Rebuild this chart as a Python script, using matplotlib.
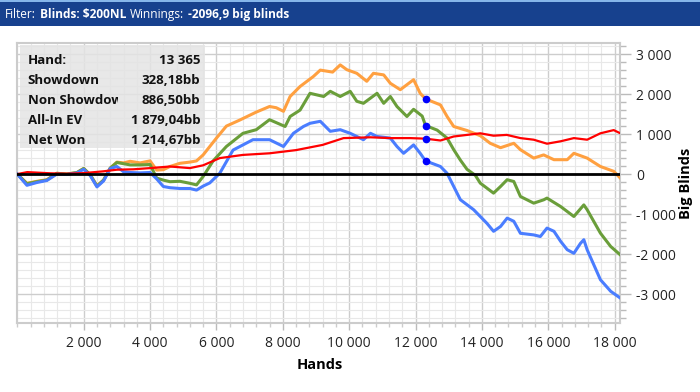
import matplotlib
matplotlib.use("Agg")
import matplotlib.pyplot as plt
from matplotlib.patches import Rectangle
from matplotlib.ticker import MultipleLocator, FixedLocator, FuncFormatter
from matplotlib.transforms import Bbox

plt.rcParams['font.family'] = ['Open Sans', 'DejaVu Sans']

# ---------------- data ----------------
ev_hands = [0, 290, 590, 890, 1190, 1490, 1800, 2000, 2200, 2400, 2600, 2800, 3000, 3200, 3400, 3700,
            4000, 4200, 4400, 4600, 4900, 5200, 5400, 5600, 6000, 6300, 6700, 7200, 7600, 7800, 8020,
            8220, 8520, 8920, 9130, 9500, 9730, 9930, 10230, 10530, 10730, 11040, 11240, 11540, 11940,
            12140, 12300, 12750, 12950, 13150, 13550, 13950, 14250, 14560, 14960, 15160, 15560, 15860,
            16170, 16570, 16770, 17170, 17570, 17970, 18170]
ev_vals = [0, -230, -180, -140, 20, 0, 40, 140, -20, -290, -150, 150, 300, 280, 320, 280,
           330, 100, 110, 190, 270, 300, 330, 480, 900, 1200, 1350, 1550, 1690, 1660, 1570,
           1940, 2190, 2440, 2600, 2550, 2730, 2610, 2520, 2320, 2520, 2480, 2270, 2110, 2360,
           2020, 1880, 1730, 1440, 1190, 1090, 960, 770, 660, 770, 610, 400, 480,
           360, 360, 520, 400, 190, 70, -100]

net_hands = [0, 290, 590, 890, 1190, 1490, 1800, 2000, 2200, 2400, 2600, 2800, 3000, 3200, 3400, 3700,
             4000, 4200, 4400, 4600, 4900, 5200, 5400, 5600, 5900, 6300, 6800, 7200, 7600, 8070, 8220,
             8520, 8820, 9230, 9430, 9730, 10030, 10230, 10430, 10840, 11040, 11240, 11440, 11740,
             11940, 12200, 12300, 12650, 12950, 13150, 13350, 13550, 13800, 13950, 14350, 14560, 14760,
             14960, 15160, 15560, 15860, 15960, 16370, 16770, 17070, 17170, 17570, 17880, 18170]
net_vals = [0, -240, -190, -150, 20, 0, 40, 140, -20, -300, -150, 150, 290, 260, 230, 230,
            240, -100, -150, -190, -180, -230, -270, -60, 330, 690, 1020, 1110, 1360, 1190, 1440,
            1600, 2020, 1940, 2070, 1940, 2070, 1820, 1770, 2020, 1770, 1940, 1690, 1440,
            1620, 1450, 1215, 1100, 900, 610, 350, 120, -30, -226, -476, -310, -140,
            -185, -560, -726, -643, -600, -810, -1060, -770, -890, -1476, -1810, -2020]

sd_hands = [0, 290, 590, 890, 1190, 1490, 1800, 2000, 2200, 2400, 2600, 2800, 3000, 3200, 3400, 3700,
            4000, 4200, 4400, 4600, 4900, 5200, 5400, 5600, 5800, 6100, 6500, 7100, 7600, 8020, 8320,
            8620, 8820, 9130, 9430, 9730, 10030, 10430, 10640, 10840, 11240, 11440, 11640, 11940,
            12140, 12300, 12750, 12950, 13150, 13350, 13750, 14150, 14350, 14560, 14760, 14960, 15160,
            15560, 15760, 15960, 16170, 16370, 16570, 16770, 16970, 17070, 17170, 17570, 17880, 18170]
sd_vals = [0, -280, -210, -160, 0, -10, 30, 120, -40, -320, -170, 140, 190, 60, 40, 30,
           40, -120, -310, -340, -360, -360, -400, -300, -220, 20, 600, 860, 860, 690, 1020,
           1190, 1270, 1320, 1070, 1110, 1020, 860, 1020, 940, 900, 690, 520, 730,
           520, 330, 190, 20, -310, -640, -890, -1230, -1430, -1310, -1100, -1180, -1480,
           -1520, -1560, -1350, -1430, -1680, -1890, -1980, -1730, -1640, -1890, -2640, -2930, -3100]

nsd_hands = [0, 300, 1000, 1500, 2000, 2600, 3000, 3500, 4000, 4600, 5200, 5600, 6100, 6800, 7600,
             8400, 9200, 9830, 10640, 11240, 11840, 12300, 12750, 13150, 13550, 13950, 14350, 14750,
             15160, 15560, 15960, 16370, 16770, 17170, 17570, 17970, 18170]
nsd_vals = [0, 50, 20, 10, 25, 70, 110, 120, 150, 190, 150, 220, 400, 480, 520,
            600, 730, 900, 920, 900, 900, 886, 840, 940, 980, 1020, 960, 980,
            900, 860, 760, 820, 900, 860, 1020, 1100, 1020]

marker_hand = 12300
marker_vals = [1879.04, 1214.67, 886.50, 328.18]

info_labels = ["Hand:", "Showdown", "Non Showdown", "All-In EV", "Net Won"]
info_values = ["13 365", "328,18bb", "886,50bb", "1 879,04bb", "1 214,67bb"]

x_ticks = [2000, 4000, 6000, 8000, 10000, 12000, 14000, 16000, 18000]
y_ticks = [-3000, -2000, -1000, 0, 1000, 2000, 3000]

# ---------------- figure ----------------
W, H = 700, 392
fig = plt.figure(figsize=(W / 100, H / 100), dpi=100)
fig.patch.set_facecolor('white')

def fx(px):
    return px / W

def fy(py):
    return 1 - py / H

ax = fig.add_axes([fx(17.3), fy(322.5), fx(620) - fx(17.3), fy(43.3) - fy(322.5)])
ax.set_xlim(0, 18160)
ax.set_ylim(-3710, 3270)

ax.set_axisbelow(True)
ax.xaxis.set_major_locator(FixedLocator(x_ticks))
ax.yaxis.set_major_locator(FixedLocator(y_ticks))
ax.xaxis.set_minor_locator(MultipleLocator(400))
ax.yaxis.set_minor_locator(MultipleLocator(200))
ax.grid(which='major', color='#CDCDCD', lw=1.0)
ax.grid(which='minor', color='#E8E8E8', lw=0.8)

fmt = FuncFormatter(lambda v, p: f"{int(v):,}".replace(",", " "))
ax.xaxis.set_major_formatter(fmt)
ax.yaxis.set_major_formatter(fmt)

ax.yaxis.tick_right()
for s in ax.spines.values():
    s.set_color('#CCCCCC')
    s.set_linewidth(1.5)

ax.tick_params(axis='y', which='major', direction='out', length=8, width=1, color='#BBBBBB',
               labelsize=10, labelcolor='#222222', pad=3.5)
ax.tick_params(axis='y', which='minor', direction='out', length=4, width=1, color='#BBBBBB')
ax.tick_params(axis='x', which='major', direction='out', length=5, width=1, color='#BBBBBB',
               labelsize=10, labelcolor='#222222', pad=5)
ax.tick_params(axis='x', which='minor', direction='out', length=3, width=1, color='#CCCCCC')

ax.plot(ev_hands, ev_vals, color='#FFA040', lw=2.2, zorder=3, solid_joinstyle='round')
ax.plot(net_hands, net_vals, color='#6A9E3A', lw=2.2, zorder=3, solid_joinstyle='round')
ax.plot(sd_hands, sd_vals, color='#4A7DFF', lw=2.2, zorder=3, solid_joinstyle='round')
ax.plot(nsd_hands, nsd_vals, color='#FF0000', lw=1.6, zorder=4, solid_joinstyle='round')
ax.axhline(0, color='black', lw=2.0, zorder=5)
ax.plot([marker_hand] * len(marker_vals), marker_vals, 'o', color='#0000FF', ms=4.5, zorder=6, lw=0)

# axis titles
fig.text(fx(320), fy(365), "Hands", ha='center', va='center', fontsize=10.5, weight='bold')
fig.text(fx(686), fy(183), "Big Blinds", ha='center', va='center', rotation=90, fontsize=10.5, weight='bold')

# info box
fig.patches.append(Rectangle((fx(20), fy(148)), fx(205) - fx(20), fy(45) - fy(148),
                             transform=fig.transFigure, facecolor='#E4E4E4', alpha=0.85,
                             edgecolor='none', zorder=7))
row_y = [61, 81, 101, 120.5, 140.5]
for lab, val, ry in zip(info_labels, info_values, row_y):
    t = fig.text(fx(27.5), fy(ry), lab, ha='left', va='center', fontsize=9.5, weight='bold',
                 color='#111111', zorder=8)
    if lab == "Non Showdown":
        t.set_clip_box(Bbox.from_extents(0, 0, 118, H))
        t.set_clip_on(True)
    fig.text(fx(200.5), fy(ry), val, ha='right', va='center', fontsize=9.5, weight='bold',
             color='#111111', zorder=8)

# header bar
fig.patches.append(Rectangle((0, fy(26)), 1, fy(0) - fy(26), transform=fig.transFigure,
                             facecolor='#17418E', edgecolor='none', zorder=1))
fig.patches.append(Rectangle((0, fy(2)), 1, fy(0) - fy(2), transform=fig.transFigure,
                             facecolor='#86B6EA', edgecolor='none', zorder=2))

renderer = fig.canvas.get_renderer()
parts = [("Filter:", 'normal'), ("Blinds: $200NL", 'bold'), ("Winnings:", 'normal'),
         ("-2096,9 big blinds", 'bold')]
xpos = 5.0
for s, w in parts:
    t = fig.text(fx(xpos), fy(14.5), s, ha='left', va='center', fontsize=8.6, weight=w,
                 color='white', zorder=3)
    bb = t.get_window_extent(renderer=renderer)
    xpos += bb.width + 4.0

fig.savefig("out.png", dpi=100, facecolor='white')
